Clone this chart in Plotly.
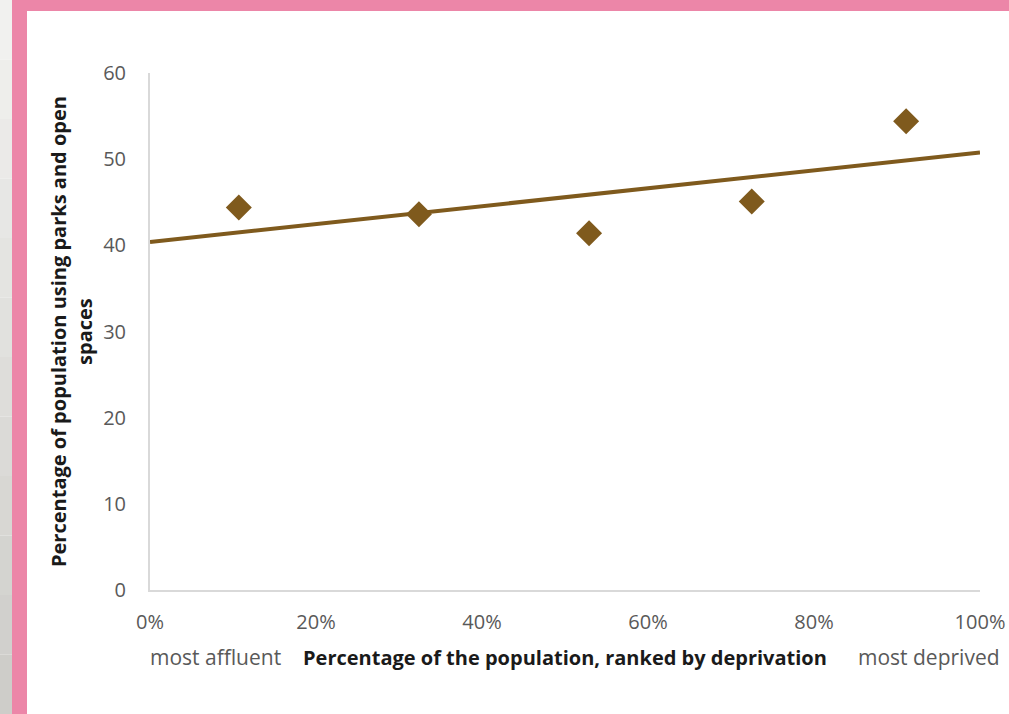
import numpy as np
import plotly.graph_objects as go

# Deprivation rank (share of population) and park usage per quintile
rank_share = [0.107, 0.324, 0.529, 0.725, 0.911]
park_use = [44.4, 43.6, 41.4, 45.1, 54.4]

x_ticks = [0, 0.2, 0.4, 0.6, 0.8, 1.0]
x_tick_text = ["0%", "20%", "40%", "60%", "80%", "100%"]
y_ticks = [0, 10, 20, 30, 40, 50, 60]

BROWN = "#7f5a1d"
PINK = "#ec86a8"
TICK_GRAY = "#595959"
FONT = "Open Sans, sans-serif"

W, H = 1009, 714
L, R, T, B = 150, 29, 73, 124
pw, ph = W - L - R, H - T - B


def px_x(p):
    return (p - L) / pw


def px_y(p):
    return (H - B - p) / ph


# linear trend line through the points
slope, intercept = np.polyfit(rank_share, park_use, 1)
trend_x = [0.0, 1.0]
trend_y = [intercept + slope * v for v in trend_x]

fig = go.Figure()
fig.add_trace(go.Scatter(
    x=trend_x, y=trend_y, mode="lines",
    line=dict(color=BROWN, width=4), hoverinfo="skip", showlegend=False,
))
fig.add_trace(go.Scatter(
    x=rank_share, y=park_use, mode="markers",
    marker=dict(symbol="diamond", size=20, color=BROWN),
    showlegend=False,
))

shapes = []
# grey strip on the far left, shaded from light to darker going down
n = 12
for i in range(n):
    g0 = np.array([0xf3, 0xf3, 0xf1])
    g1 = np.array([0xcd, 0xcc, 0xc8])
    c = g0 + (g1 - g0) * (i + 0.5) / n
    shapes.append(dict(
        type="rect", xref="paper", yref="paper", layer="below",
        x0=px_x(0), x1=px_x(12),
        y0=px_y(H * (i + 1) / n), y1=px_y(H * i / n),
        fillcolor="rgb(%d,%d,%d)" % tuple(c.astype(int)), line_width=0,
    ))
# pink frame: left bar and top band
shapes.append(dict(type="rect", xref="paper", yref="paper", layer="below",
                   x0=px_x(12), x1=px_x(27), y0=px_y(H), y1=px_y(0),
                   fillcolor=PINK, line_width=0))
shapes.append(dict(type="rect", xref="paper", yref="paper", layer="below",
                   x0=px_x(12), x1=px_x(W), y0=px_y(11), y1=px_y(0),
                   fillcolor=PINK, line_width=0))

annotations = [
    dict(text="Percentage of population using parks and open<br>spaces",
         xref="paper", yref="paper", x=px_x(71), y=px_y(332),
         textangle=-90, showarrow=False, xanchor="center", yanchor="middle",
         font=dict(family=FONT, size=20, color="#1a1a1a", weight="bold")),
    dict(text="Percentage of the population, ranked by deprivation",
         xref="paper", yref="paper", x=px_x(565), y=px_y(657),
         showarrow=False, xanchor="center", yanchor="middle",
         font=dict(family=FONT, size=20, color="#1a1a1a", weight="bold")),
    dict(text="most affluent", xref="paper", yref="paper",
         x=px_x(215), y=px_y(657), showarrow=False,
         xanchor="center", yanchor="middle",
         font=dict(family=FONT, size=21, color=TICK_GRAY)),
    dict(text="most deprived", xref="paper", yref="paper",
         x=px_x(929), y=px_y(657), showarrow=False,
         xanchor="center", yanchor="middle",
         font=dict(family=FONT, size=21, color=TICK_GRAY)),
]

fig.update_layout(
    width=W, height=H,
    margin=dict(l=L, r=R, t=T, b=B, autoexpand=False),
    paper_bgcolor="white", plot_bgcolor="white",
    shapes=shapes, annotations=annotations,
    font=dict(family=FONT, size=20, color=TICK_GRAY),
    xaxis=dict(range=[0, 1], tickvals=x_ticks, ticktext=x_tick_text,
               showgrid=False, zeroline=False, showline=True,
               linecolor="#d9d9d9", linewidth=2, ticks="",
               ticklabelstandoff=13, automargin=False, fixedrange=True),
    yaxis=dict(range=[0, 60], tickvals=y_ticks,
               showgrid=False, zeroline=False, showline=True,
               linecolor="#d9d9d9", linewidth=2, ticks="",
               ticklabelstandoff=18, automargin=False, fixedrange=True),
)

fig.write_html("out.html")
